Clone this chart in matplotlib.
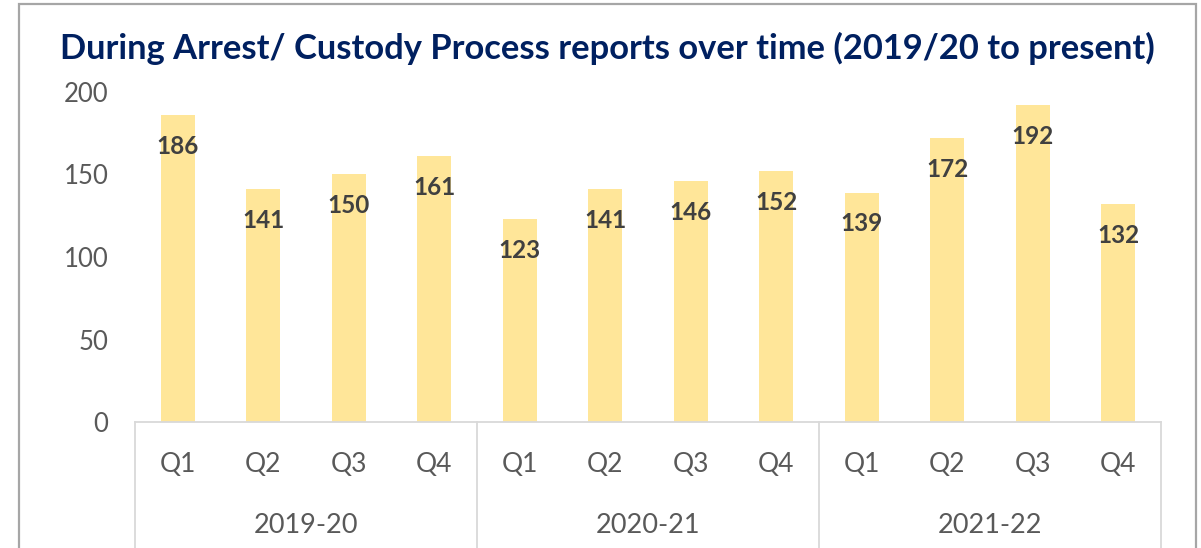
import matplotlib
matplotlib.use('Agg')
import matplotlib.pyplot as plt
from matplotlib.patches import Rectangle
from matplotlib.lines import Line2D

# Data
years = ['2019-20', '2020-21', '2021-22']
quarters = ['Q1', 'Q2', 'Q3', 'Q4']
reports = [186, 141, 150, 161,
           123, 141, 146, 152,
           139, 172, 192, 132]

plt.rcParams['font.family'] = ['Lato', 'DejaVu Sans']

W, H = 1201, 548
fig = plt.figure(figsize=(W / 100, H / 100), dpi=100)

# outer chart border
fig.patches.append(Rectangle((19 / W, -0.1), (1196 - 19) / W, 1.1 - 4 / H,
                             transform=fig.transFigure, fill=False,
                             edgecolor='#A6A6A6', linewidth=1.6))

ax = fig.add_axes([135 / W, (H - 422) / H, (1161 - 135) / W, (422 - 92) / H])

n = len(reports)
x = list(range(n))
ax.bar(x, reports, width=0.4, color='#FFE699', zorder=2)

for xi, v in zip(x, reports):
    ax.annotate(str(v), (xi, v), xytext=(0, -31), textcoords='offset pixels',
                ha='center', va='center', fontsize=17.5, fontweight='bold',
                color='#404040', zorder=3)

ax.set_xlim(-0.5, n - 0.5)
ax.set_ylim(0, 200)
ax.set_yticks([0, 50, 100, 150, 200])
ax.tick_params(axis='y', length=0, labelsize=18.5, labelcolor='#595959', pad=19)
ax.set_xticks([])
for s in ['top', 'right', 'left']:
    ax.spines[s].set_visible(False)
ax.spines['bottom'].set_color('#D9D9D9')
ax.spines['bottom'].set_linewidth(1.3)

# two-level category axis
lab_q = ax.get_xaxis_transform()
for i in range(n):
    ax.text(i, -0.13, quarters[i % 4], transform=lab_q, ha='center', va='center',
            fontsize=19, color='#595959', clip_on=False)
for g, yr in enumerate(years):
    ax.text(g * 4 + 1.5, -0.315, yr, transform=lab_q, ha='center', va='center',
            fontsize=19.5, color='#595959', clip_on=False)
for g in range(len(years) + 1):
    ax.add_line(Line2D([g * 4 - 0.5, g * 4 - 0.5], [0, -0.4], transform=lab_q,
                       color='#D9D9D9', linewidth=1.3, clip_on=False))

fig.text(607 / W, 1 - 48 / H,
         'During Arrest/ Custody Process reports over time (2019/20 to present)',
         ha='center', va='center', fontsize=24.8, fontweight='bold', color='#002060')

fig.savefig('out.png', dpi=100)
